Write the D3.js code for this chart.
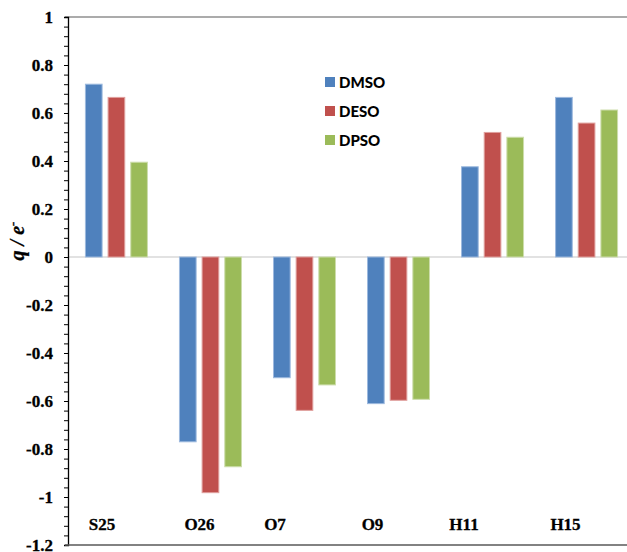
<!DOCTYPE html>
<html><head><meta charset="utf-8">
<script src="https://cdn.jsdelivr.net/npm/d3@7"></script>
<style>body{margin:0;background:#fff}svg{display:block}</style>
</head><body>
<script>
const categories = ["S25","O26","O7","O9","H11","H15"];
const seriesNames = ["DMSO","DESO","DPSO"];
const DMSO = [0.72, -0.77, -0.503, -0.611, 0.376, 0.665];
const DESO = [0.665, -0.982, -0.639, -0.597, 0.519, 0.558];
const DPSO = [0.395, -0.874, -0.533, -0.593, 0.499, 0.6125];
const yTicks = [1,0.8,0.6,0.4,0.2,0,-0.2,-0.4,-0.6,-0.8,-1,-1.2];
const tickLabels = ["1","0.8","0.6","0.4","0.2","0","-0.2","-0.4","-0.6","-0.8","-1","-1.2"];

// layout
const W=627,H=552;
const colors=["#4F81BD","#C0504D","#9BBB59"];
const strokes=["#9DB9DE","#E0A09E","#CDDDAC"];
const labelOffsets=[34,37,18,21,18,25];
const values=[DMSO,DESO,DPSO];

const svg=d3.select("body").append("svg").attr("width",W).attr("height",H);
const x0=68, x1=68+6*94.5;
const y=d3.scaleLinear().domain([-1.2,1]).range([545,17]);
const x=d3.scaleBand().domain(categories).range([x0,x1]).paddingInner(0.33).paddingOuter(0.18);
const xs=d3.scaleBand().domain(seriesNames).range([0,x.bandwidth()]).paddingInner(0.22);
const xc=d3.scaleBand().domain(categories).range([x0,x1]);

// top border line
svg.append("line").attr("x1",x0-3).attr("x2",W).attr("y1",y(1)).attr("y2",y(1)).attr("stroke","#595959").attr("stroke-width",1.2);
// zero line
svg.append("line").attr("x1",x0).attr("x2",W).attr("y1",y(0)).attr("y2",y(0)).attr("stroke","#D9D9D9").attr("stroke-width",1.5);

// bars
seriesNames.forEach((s,si)=>{
  svg.append("g").selectAll("rect").data(categories).join("rect")
    .attr("x",d=>x(d)+xs(s)+0.5)
    .attr("width",xs.bandwidth()-1)
    .attr("y",(d,i)=>y(Math.max(0,values[si][i])))
    .attr("height",(d,i)=>Math.abs(y(values[si][i])-y(0)))
    .attr("fill",colors[si]).attr("stroke",strokes[si]).attr("stroke-width",1);
});

// y axis
const minor=d3.range(-1.2,1.0001,0.04);
const yAxis=d3.axisLeft(y).tickValues(minor).tickSize(4).tickFormat("");
const ga=svg.append("g").attr("transform",`translate(${x0},0)`).call(yAxis);
ga.select(".domain").attr("stroke","#000").attr("stroke-width",1.3);
ga.selectAll(".tick line").attr("stroke","#000").attr("stroke-width",1);
svg.append("g").selectAll("text").data(yTicks).join("text")
  .attr("x",53).attr("y",d=>y(d)+6).attr("text-anchor","end")
  .attr("font-family","Liberation Serif").attr("font-weight","bold").attr("font-size",17)
  .attr("stroke","#000").attr("stroke-width",0.3)
  .text((d,i)=>tickLabels[i]);

// bottom axis line
svg.append("line").attr("x1",x0-3).attr("x2",W).attr("y1",y(-1.2)).attr("y2",y(-1.2)).attr("stroke","#595959").attr("stroke-width",1.3);

// category labels
svg.append("g").selectAll("text").data(categories).join("text")
  .attr("x",(d,i)=>xc(d)+labelOffsets[i]).attr("y",530).attr("text-anchor","middle")
  .attr("font-family","Liberation Serif").attr("font-weight","bold").attr("font-size",17)
  .attr("stroke","#000").attr("stroke-width",0.3)
  .text(d=>d);

// y title
const t=svg.append("text").attr("transform","translate(24,241) rotate(-90)").attr("text-anchor","middle")
  .attr("font-family","Liberation Serif").attr("font-weight","bold").attr("font-style","italic").attr("font-size",20)
  .attr("stroke","#000").attr("stroke-width",0.3);
t.append("tspan").text("q / e");
t.append("tspan").attr("dy",-7).attr("font-size",13).text("-");

// legend
const lg=svg.append("g").attr("transform","translate(325,77)");
seriesNames.forEach((s,i)=>{
  lg.append("rect").attr("x",0).attr("y",i*29).attr("width",10).attr("height",10).attr("fill",colors[i]);
  lg.append("text").attr("x",14).attr("y",i*29+10.5).attr("font-family","Lato").attr("font-weight","900").attr("font-size",15).attr("fill","#000").text(s);
});
</script>
</body></html>
